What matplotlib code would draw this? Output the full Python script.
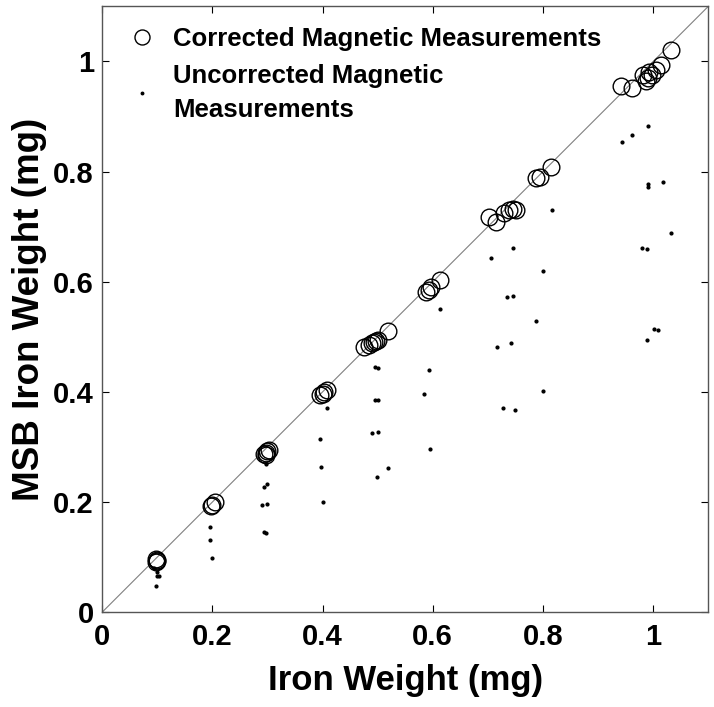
import numpy as np
import matplotlib
matplotlib.use("Agg")
import matplotlib.pyplot as plt

plt.rcParams['font.family'] = ['Liberation Sans', 'DejaVu Sans']
plt.rcParams['font.weight'] = 'bold'

# Datos corregidos (circulos)
corr_x = [0.097, 0.099, 0.100, 0.098,
          0.198, 0.200, 0.205,
          0.294, 0.297, 0.300, 0.302, 0.298,
          0.396, 0.400, 0.402, 0.409,
          0.475, 0.485, 0.490, 0.493, 0.497, 0.500, 0.518,
          0.587, 0.593, 0.596, 0.613,
          0.702, 0.715, 0.730, 0.738, 0.745, 0.751,
          0.787, 0.795, 0.815,
          0.942, 0.962, 0.982, 0.987, 0.990, 0.993, 0.997, 1.005, 1.015, 1.033]
corr_y = [0.092, 0.095, 0.093, 0.097,
          0.193, 0.195, 0.200,
          0.287, 0.290, 0.292, 0.295, 0.285,
          0.395, 0.397, 0.399, 0.404,
          0.481, 0.485, 0.488, 0.490, 0.492, 0.495, 0.510,
          0.582, 0.585, 0.590, 0.604,
          0.717, 0.708, 0.725, 0.730, 0.733, 0.730,
          0.788, 0.790, 0.808,
          0.956, 0.951, 0.975, 0.965, 0.970, 0.980, 0.975, 0.985, 0.993, 1.020]

# Datos sin corregir (puntos)
unc_x = [0.095, 0.100, 0.104, 0.100, 0.098,
         0.196, 0.196, 0.200,
         0.297, 0.293, 0.300, 0.291, 0.300, 0.294, 0.298,
         0.409, 0.396, 0.398, 0.400,
         0.496, 0.500, 0.496, 0.500, 0.489, 0.500, 0.498, 0.518,
         0.613, 0.593, 0.585, 0.595,
         0.705, 0.745, 0.800, 0.734, 0.745, 0.787, 0.716, 0.742, 0.727, 0.749, 0.800,
         0.816,
         0.944, 0.961, 0.991, 0.990, 0.990, 1.018, 1.033, 0.980, 0.989, 1.002, 1.009, 0.989]
unc_y = [0.080, 0.073, 0.065, 0.065, 0.047,
         0.154, 0.131, 0.098,
         0.270, 0.227, 0.232, 0.194, 0.196, 0.145, 0.143,
         0.370, 0.314, 0.263, 0.200,
         0.445, 0.444, 0.385, 0.386, 0.325, 0.327, 0.245, 0.261,
         0.550, 0.439, 0.397, 0.296,
         0.644, 0.662, 0.619, 0.572, 0.575, 0.528, 0.481, 0.488, 0.370, 0.367, 0.401,
         0.731,
         0.853, 0.867, 0.882, 0.778, 0.772, 0.782, 0.688, 0.662, 0.659, 0.514, 0.512, 0.494]

ticks = [0, 0.2, 0.4, 0.6, 0.8, 1]
tick_labels = ['0', '0.2', '0.4', '0.6', '0.8', '1']

fig = plt.figure(figsize=(7.14, 7.07), dpi=100)
ax = fig.add_axes([0.143, 0.134, 0.849, 0.857])

ax.plot([0, 1.1], [0, 1.1], color='gray', lw=0.8, zorder=1)
ax.plot(corr_x, corr_y, 'o', mfc='none', mec='black', ms=12, mew=1.0,
        label='Corrected Magnetic Measurements')
ax.plot(unc_x, unc_y, '.', color='black', ms=4,
        label='Uncorrected Magnetic\nMeasurements')

ax.set_xlim(0, 1.1)
ax.set_ylim(0, 1.1)
ax.set_xticks(ticks)
ax.set_yticks(ticks)
ax.set_xticklabels(tick_labels)
ax.set_yticklabels(tick_labels)
ax.tick_params(direction='in', length=5, width=0.8, top=True, right=True,
               labelsize=21)
ax.tick_params(axis='x', pad=8)
ax.tick_params(axis='y', pad=6)
for s in ax.spines.values():
    s.set_color('#555555')
    s.set_linewidth(1.0)

ax.set_xlabel('Iron Weight (mg)', fontsize=25, fontweight='bold', labelpad=9)
ax.set_ylabel('MSB Iron Weight (mg)', fontsize=26.5, fontweight='bold', labelpad=4)

leg = ax.legend(loc='upper left', frameon=False, fontsize=18.5, handletextpad=0.45,
                borderaxespad=0.41, borderpad=0.4, handlelength=1.5,
                labelspacing=0.5, markerscale=0.9)
leg.get_texts()[1].set_linespacing(1.5)

fig.savefig('out.png', dpi=100)
